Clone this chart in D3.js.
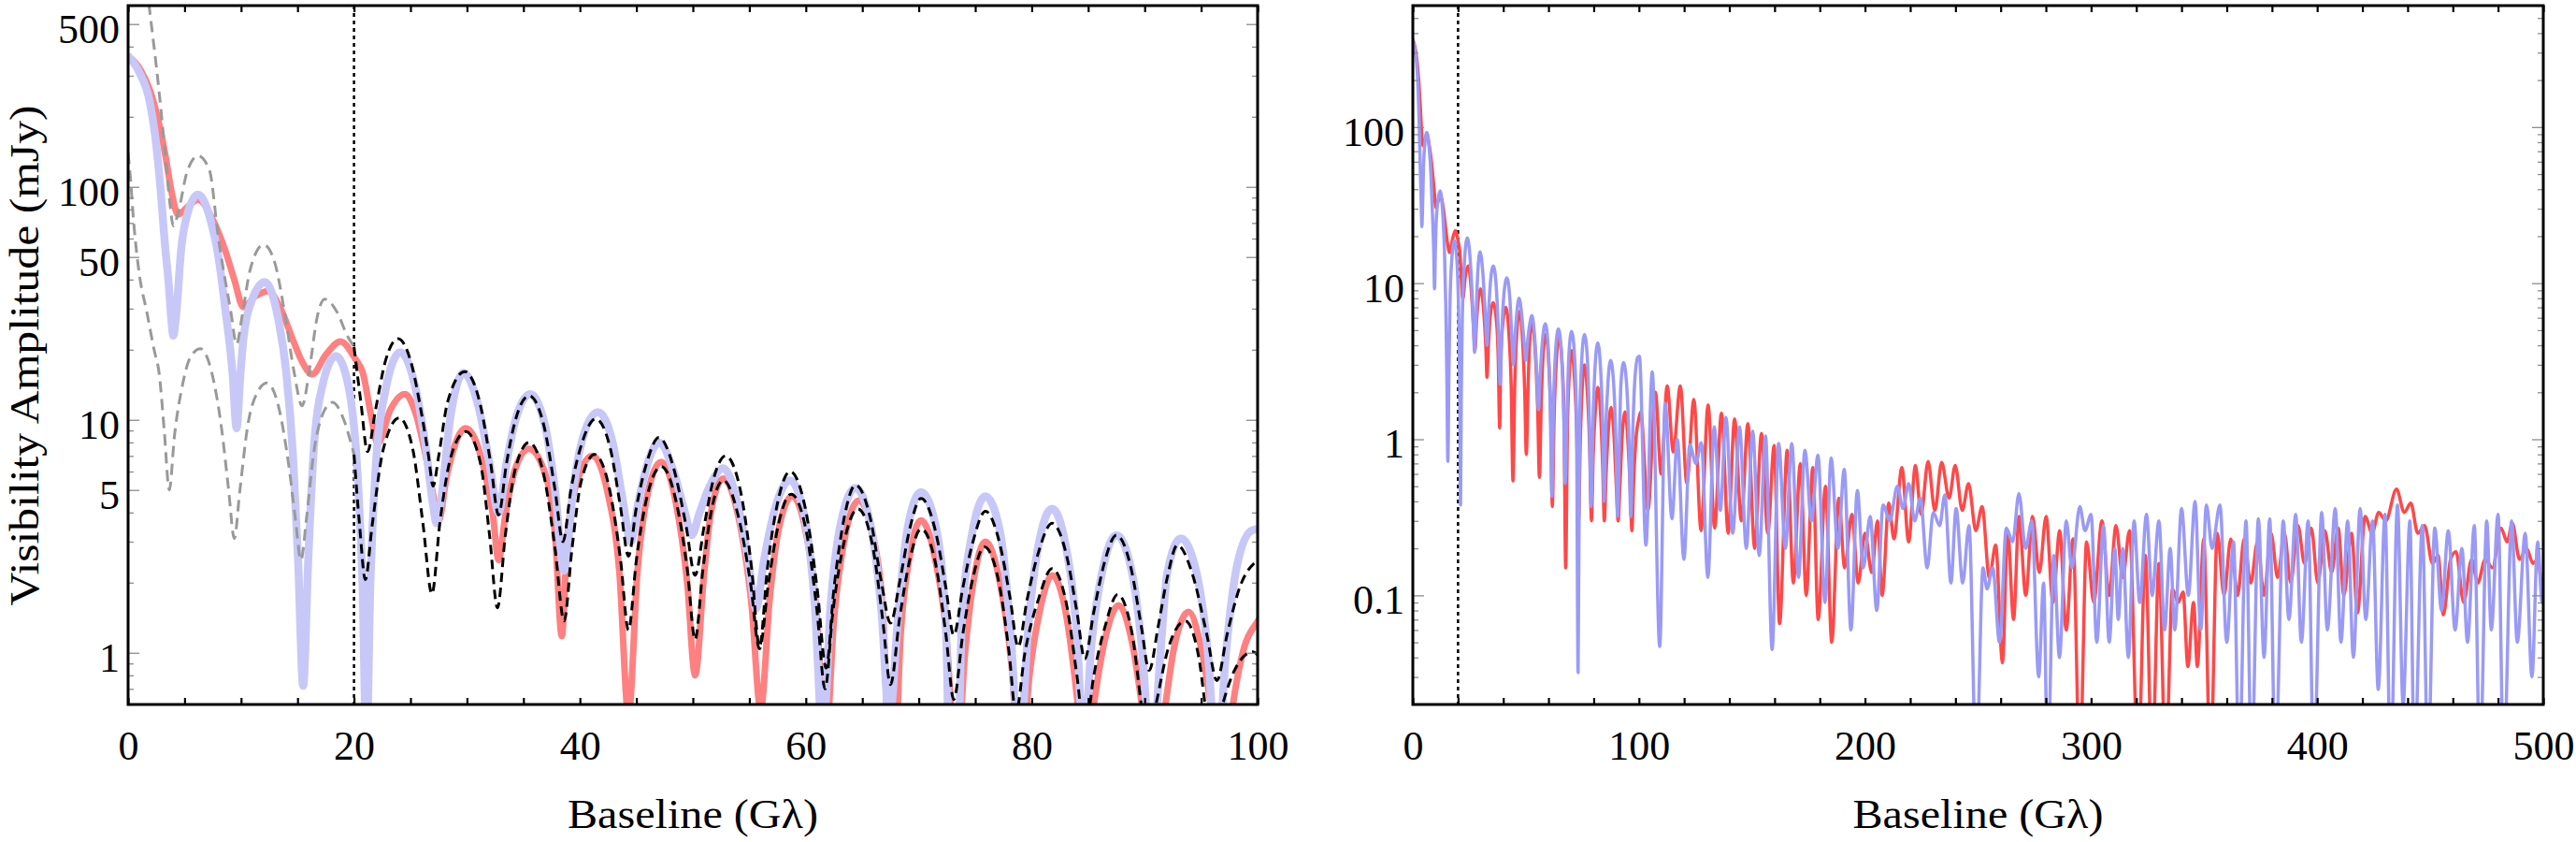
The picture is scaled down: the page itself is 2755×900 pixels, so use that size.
<!DOCTYPE html>
<html><head><meta charset="utf-8">
<script src="https://cdn.jsdelivr.net/npm/d3@7"></script>
<style>
html,body{margin:0;padding:0;background:#fff;}
svg{display:block;}
</style></head><body>
<svg id="chart" width="2755" height="900"></svg>
<script>
// ---------------- DATA ----------------
const leftXLabels = [0, 20, 40, 60, 80, 100];
const rightXLabels = [0, 100, 200, 300, 400, 500];
const leftYLabels = [1, 5, 10, 50, 100, 500];
const rightYLabels = [0.1, 1, 10, 100];
const xTitle = "Baseline (G\u03bb)";
const yTitle = "Visibility Amplitude (mJy)";
const cutBaseline = 20;

// red model, 0-100
const redNear = [[0,365],[1.1,318],[1.93,260],[2.76,185],[3.31,136],[3.87,94],[4.42,76],[5.25,82],[6.2,88],[7.46,73],[8.56,54],[9.4,40],[10.2,30.5],[11.3,34],[12.4,35.7],[13.5,30],[14.6,22],[15.4,17.8],[16.3,15.7],[17.5,19],[18.8,21.7],[20.1,18.3],[20.8,15.8],[21.5,10.5],[22.1,7.9],[23.2,11],[24.5,12.9],[25.5,10.5],[26.3,7.2],[27.0,4.8],[27.5,3.7],[28.2,5.7],[29.9,9.2],[31.5,6.2],[32.3,3.9],[32.8,2.5],[33.4,3.9],[34.3,6.2],[35.5,7.5],[37.1,5.5],[37.8,3.2],[38.4,1.18],[38.9,3.2],[39.9,5.7],[41.1,7.0],[42.4,5.0],[43.5,2.2],[44.3,0.54],[45.1,2.25],[46.0,4.8],[47.2,6.6],[48.5,4.4],[49.5,2.0],[50.2,0.8],[51.0,2.2],[51.6,4.0],[52.7,5.6],[54.0,3.9],[55.2,1.6],[56.0,0.57],[56.8,1.7],[57.6,3.4],[58.8,4.7],[60.0,3.3],[61.0,1.4],[61.7,0.37],[62.5,1.4],[63.5,3.2],[64.7,4.5],[66.0,3.1],[66.9,1.3],[67.6,0.15],[68.4,1.2],[69.2,2.6],[70.2,3.7],[71.4,2.6],[72.5,1.1],[73.3,0.3],[74.1,1.0],[74.9,2.1],[75.9,3.0],[77.1,2.1],[78.2,0.9],[79.0,0.3],[79.8,0.8],[80.7,1.5],[81.8,2.15],[83.0,1.5],[84.0,0.65],[84.7,0.3],[85.5,0.6],[86.5,1.15],[87.7,1.6],[88.9,1.1],[90.0,0.5],[90.8,0.3],[91.6,0.5],[92.6,1.05],[93.9,1.5],[95.0,1.05],[96.1,0.5],[96.9,0.26],[97.7,0.55],[98.8,1.05],[99.9,1.34]];
// red model, 100-500 (extrema)
const redFar = [[100.8,1.5],[104.0,0.35],[107.3,2.0],[109.8,0.6],[112.5,2.2],[115.2,0.83],[118.3,2.2],[121.2,0.52],[124.3,1.8],[127.5,0.26],[130.6,1.66],[133.5,0.27],[136.5,1.47],[139.5,0.25],[142.3,1.35],[145.3,0.3],[148.2,1.26],[151.2,0.2],[154.2,1.09],[157.0,0.25],[159.8,0.91],[162.2,0.066],[165.6,0.85],[168.3,0.12],[171.4,0.7],[174.0,0.1],[176.9,0.66],[179.3,0.07],[182.5,0.5],[185.3,0.05],[188.4,0.42],[191.0,0.15],[194.2,0.33],[197.0,0.12],[200.0,0.25],[203.0,0.14],[205.5,0.3],[207.6,0.1],[210.5,0.39],[212.8,0.23],[216.3,0.66],[219.3,0.22],[222.3,0.68],[224.8,0.33],[227.9,0.72],[230.9,0.35],[233.9,0.71],[237.2,0.42],[239.9,0.68],[243.0,0.35],[245.8,0.52],[249.0,0.26],[251.8,0.37],[255.0,0.13],[257.8,0.21],[260.8,0.037],[263.1,0.26],[265.7,0.07],[268.1,0.32],[271.1,0.1],[274.1,0.32],[277.1,0.14],[280.1,0.32],[283.1,0.09],[286.1,0.26],[289.0,0.06],[292.0,0.23],[295.0,0.008],[298.0,0.22],[301.2,0.09],[304.8,0.3],[308.0,0.1],[311.0,0.28],[314.0,0.13],[317.0,0.26],[320.8,0.008],[324.0,0.18],[327.0,0.008],[330.0,0.16],[333.0,0.008],[336.0,0.11],[338.5,0.09],[340.7,0.105],[342.8,0.035],[345.3,0.09],[347.0,0.035],[349.8,0.23],[352.8,0.008],[355.8,0.25],[358.8,0.1],[361.8,0.23],[364.8,0.1],[367.7,0.23],[370.6,0.12],[373.6,0.22],[376.5,0.1],[379.6,0.25],[382.5,0.13],[385.5,0.25],[388.3,0.12],[391.5,0.28],[394.4,0.16],[397.4,0.27],[400.3,0.12],[403.4,0.26],[406.4,0.14],[409.3,0.27],[411.8,0.1],[415.2,0.25],[417.8,0.077],[421.2,0.32],[424.3,0.25],[427.2,0.34],[430.3,0.3],[435.1,0.48],[438.5,0.34],[441.4,0.39],[444.5,0.25],[447.5,0.28],[451.0,0.16],[453.5,0.18],[455.8,0.075],[459.0,0.17],[461.4,0.19],[464.8,0.09],[468.3,0.17],[471.0,0.12],[474.3,0.17],[477.5,0.15],[481.3,0.27],[484.0,0.22],[486.3,0.29],[489.5,0.17],[492.6,0.2],[495.5,0.16],[497.5,0.17],[500,0.1],[502,0.1]];

// blue model, 0-100
const blueNear = [[0,365],[1.0,310],[1.93,230],[2.4,165],[2.76,113],[3.3,54],[3.6,38],[3.8,28],[4.0,23],[4.25,28],[4.7,54],[5.3,78],[6.2,92.6],[7.3,72],[8.0,50],[8.6,30],[9.25,15.8],[9.6,9.2],[9.95,15.8],[10.2,22],[11.0,33],[12.1,39],[13.3,27],[14.0,16],[14.6,7],[15.05,2.5],[15.5,0.72],[15.95,2.5],[16.4,7],[17.2,14],[18.4,18.8],[19.5,14],[20.3,6],[20.75,2],[21.1,0.38],[21.45,2],[21.9,6],[22.8,13.5],[24.1,19.5],[25.4,14],[26.3,8],[27.0,4.3],[27.3,3.6],[27.7,4.5],[28.5,10],[29.7,15.9],[31.0,11.5],[32.0,6.5],[32.8,4.0],[33.5,6.5],[34.3,10],[35.6,12.9],[36.9,9.5],[37.8,5],[38.6,2.25],[39.4,5],[40.3,8.5],[41.6,10.8],[42.9,8],[43.8,4.5],[44.5,3.0],[45.2,4.5],[46.0,6.5],[47.0,8.0],[48.3,6.0],[49.3,4.0],[49.9,3.2],[50.6,4.0],[51.5,5.2],[52.7,6.2],[53.9,4.5],[54.9,2.5],[55.6,1.55],[56.3,2.5],[57.3,4.2],[58.6,5.5],[59.9,3.8],[60.8,1.6],[61.5,0.43],[62.2,1.6],[63.1,3.6],[64.4,5.1],[65.7,3.6],[66.7,1.5],[67.4,0.52],[68.2,1.5],[69.0,3.4],[70.2,4.9],[71.5,3.5],[72.4,1.3],[73.1,0.032],[73.8,1.3],[74.7,3.2],[75.9,4.7],[77.2,3.3],[78.1,1.3],[78.9,0.37],[79.7,1.3],[80.6,2.9],[81.8,4.15],[83.0,2.9],[84.0,1.2],[84.6,0.4],[85.3,1.1],[86.3,2.3],[87.5,3.2],[88.8,2.3],[89.8,1.0],[90.6,0.32],[91.4,1.0],[92.0,2.2],[93.2,3.1],[94.6,2.2],[95.6,1.0],[96.4,0.32],[97.2,1.0],[98.2,2.4],[99.5,3.35]];
// blue model, 100-500 (extrema)
const blueFar = [[100.2,3.4],[103.1,0.21],[105.9,2.7],[109.2,0.047],[111.6,1.7],[114.6,0.31],[117.0,1.0],[119.9,0.17],[122.5,0.92],[125.2,0.7],[127.6,0.95],[130.5,0.13],[133.3,1.2],[136.0,0.35],[138.5,1.38],[141.5,0.25],[144.5,1.2],[147.5,0.2],[150.3,1.13],[153.2,0.18],[156.0,1.05],[158.9,0.045],[161.8,0.94],[164.8,0.2],[167.6,0.94],[170.6,0.13],[173.4,0.85],[176.3,0.3],[179.2,0.79],[182.3,0.09],[185.0,0.76],[188.0,0.2],[190.8,0.64],[193.8,0.06],[196.6,0.47],[199.2,0.15],[202.3,0.32],[205.2,0.08],[208.0,0.38],[211.0,0.3],[214.3,0.5],[216.8,0.36],[219.3,0.52],[222.0,0.3],[224.5,0.42],[227.5,0.15],[230.2,0.34],[233.0,0.28],[235.3,0.44],[238.0,0.12],[240.3,0.36],[243.2,0.12],[246.0,0.28],[249.2,0.008],[252.2,0.15],[254.0,0.11],[256.5,0.15],[259.5,0.05],[262.5,0.27],[265.3,0.22],[268.1,0.45],[271.0,0.2],[273.8,0.3],[276.8,0.03],[279.0,0.12],[280.8,0.008],[283.5,0.18],[286.0,0.04],[289.0,0.3],[291.5,0.15],[295.0,0.37],[297.3,0.26],[300.0,0.33],[302.5,0.05],[305.5,0.28],[308.0,0.05],[310.5,0.2],[312.0,0.07],[314.0,0.2],[316.5,0.04],[319.0,0.3],[321.5,0.09],[324.5,0.33],[327.0,0.1],[330.0,0.3],[332.5,0.06],[335.0,0.2],[337.0,0.06],[340.0,0.36],[343.0,0.1],[346.0,0.4],[348.5,0.06],[351.0,0.38],[353.5,0.2],[357.0,0.38],[360.0,0.05],[363.0,0.22],[365.5,0.008],[368.5,0.3],[371.0,0.008],[374.0,0.31],[376.5,0.04],[379.0,0.31],[381.5,0.008],[385.0,0.3],[387.5,0.07],[390.5,0.33],[393.0,0.05],[396.0,0.3],[398.5,0.008],[402.0,0.34],[404.5,0.06],[408.0,0.36],[410.5,0.05],[413.5,0.3],[416.0,0.04],[419.0,0.36],[421.5,0.07],[424.5,0.3],[427.0,0.025],[430.0,0.33],[432.5,0.008],[435.5,0.38],[438.0,0.02],[441.0,0.3],[443.0,0.008],[446.5,0.28],[449.0,0.008],[452.0,0.27],[455.0,0.08],[458.0,0.26],[461.0,0.06],[464.0,0.2],[466.5,0.05],[469.5,0.28],[472.0,0.008],[475.0,0.3],[477.0,0.06],[480.0,0.33],[482.5,0.008],[486.0,0.3],[488.5,0.05],[492.0,0.25],[495.0,0.03],[497.5,0.22],[499.5,0.09],[500.5,0.15]];

// dashed comparison curves, left panel (gray below 20, black above 20)
const grayUpper = [[0,5000],[0.9,1500],[1.8,635],[2.76,252],[3.3,136],[3.7,85],[4.0,68],[4.5,80],[5.2,115],[6.2,136],[7.2,118],[8.0,60],[9.1,29],[9.6,21.1],[10.1,28],[10.8,44],[12.0,56.5],[13.0,47],[13.9,28],[14.7,16],[15.4,11.5],[16.1,17],[16.7,27],[17.4,33],[18.5,29],[19.4,23],[20,20.6]];
const grayLower = [[0,140],[0.2,110],[0.5,70],[1.0,42],[1.66,29],[2.3,20],[2.76,15.7],[3.2,9],[3.65,5.0],[4.1,8.5],[4.8,14],[5.5,18.5],[6.4,20.2],[7.4,16],[8.3,9],[8.9,5],[9.4,3.1],[9.9,5],[10.6,9.5],[11.4,13],[12.3,14.4],[13.3,11.5],[14.2,6.5],[14.8,3.8],[15.3,2.5],[15.8,3.8],[16.4,7],[17.2,10.5],[18.1,11.9],[19.1,10],[20,7.1]];
const blackUpper = [[20,20.6],[20.6,12],[21.2,7.3],[21.9,11],[22.8,18],[23.9,22.3],[25.0,18],[26.0,10.5],[26.6,7],[27.0,5.2],[27.5,7],[28.3,12],[29.8,16.1],[31.2,11.5],[32.1,6.5],[32.8,3.9],[33.5,6.5],[34.3,10],[35.5,12.7],[36.8,9.5],[37.8,5],[38.5,3.0],[39.2,5],[40.2,8],[41.4,10.1],[42.7,7.5],[43.6,4.2],[44.3,2.6],[45.0,4.2],[45.9,6.5],[47.0,8.4],[48.3,6.2],[49.4,3.5],[50.2,2.15],[51.0,3.5],[51.8,5.5],[52.9,7.0],[54.2,5.0],[55.2,2.3],[55.9,1.06],[56.6,2.3],[57.5,4.4],[58.6,6.0],[59.9,4.3],[61.0,1.9],[61.8,0.86],[62.5,1.9],[63.4,3.8],[64.4,5.25],[65.7,3.8],[66.7,2.0],[67.5,1.34],[68.3,2.0],[69.2,3.4],[70.2,4.6],[71.5,3.3],[72.4,1.9],[73.1,1.19],[73.9,1.9],[74.8,3.0],[75.9,4.05],[77.2,2.9],[78.1,1.7],[78.8,1.06],[79.6,1.7],[80.6,2.7],[81.8,3.6],[83.1,2.6],[84.0,1.5],[84.7,0.94],[85.5,1.5],[86.4,2.4],[87.5,3.2],[88.8,2.3],[89.7,1.3],[90.4,0.84],[91.2,1.3],[92.0,2.1],[92.9,2.9],[94.2,2.2],[95.5,1.2],[96.4,0.76],[97.3,1.2],[98.4,1.9],[100,2.5]];
const blackLower = [[20,7.1],[20.5,3.5],[21.0,2.06],[21.6,3.5],[22.6,7.5],[24.0,10.2],[25.2,7.5],[26.1,3.6],[26.9,1.79],[27.6,3.6],[28.6,7],[29.9,8.9],[31.2,6.5],[32.0,3.2],[32.7,1.56],[33.4,3.2],[34.3,6.2],[35.5,8.0],[36.8,5.8],[37.8,2.8],[38.6,1.37],[39.3,2.8],[40.1,5.4],[41.3,7.1],[42.6,5.1],[43.6,2.5],[44.3,1.25],[45.0,2.5],[46.0,4.8],[47.2,6.3],[48.5,4.5],[49.5,2.3],[50.2,1.14],[50.9,2.3],[51.7,4.2],[52.7,5.5],[54.0,3.9],[55.1,2.0],[55.9,1.04],[56.7,2.0],[57.6,3.6],[58.7,4.8],[60.0,3.4],[61.0,1.5],[61.7,0.7],[62.4,1.5],[63.4,3.0],[64.6,4.15],[65.9,2.9],[66.8,1.4],[67.5,0.73],[68.3,1.4],[69.2,2.5],[70.2,3.4],[71.5,2.4],[72.4,1.2],[73.1,0.63],[73.9,1.2],[74.8,2.1],[75.8,2.85],[77.1,2.0],[78.0,1.0],[78.6,0.55],[79.4,1.0],[80.6,1.7],[81.8,2.3],[83.1,1.6],[84.0,0.8],[84.7,0.45],[85.5,0.8],[86.5,1.3],[87.6,1.78],[88.9,1.2],[89.7,0.6],[90.2,0.4],[91.0,0.6],[92.1,1.05],[93.6,1.37],[94.8,0.95],[95.6,0.5],[96.1,0.42],[96.9,0.6],[98.0,0.85],[99.6,1.01],[100,0.98]];

// ---------------- DRAWING ----------------
const FONT = "'Liberation Serif','Times New Roman',serif";
const svg = d3.select("#chart");
const TOP = 6, BOTTOM = 753;

const redModel = redNear.concat(redFar);
const blueModel = blueNear.concat(blueFar);

const panels = [
  {id:"L", x0:137, x1:1345, xDom:[0,100], yDom:[0.6,600], step:5, xLabels:leftXLabels, yLabels:leftYLabels,
   series:[
     {data:redModel, color:"#ff8080", width:7},
     {data:blueModel, color:"#c8c8f8", width:8.5},
     {data:grayUpper, color:"#999999", width:3, dash:"12,7"},
     {data:grayLower, color:"#999999", width:3, dash:"12,7"},
     {data:blackUpper, color:"#000000", width:3, dash:"10,6"},
     {data:blackLower, color:"#000000", width:3, dash:"10,6"}
   ]},
  {id:"R", x0:1511, x1:2720, xDom:[0,500], yDom:[0.02,600], step:20, xLabels:rightXLabels, yLabels:rightYLabels,
   series:[
     {data:redModel, color:"#ff4848", width:3.5},
     {data:blueModel, color:"#9a9af6", width:3.5}
   ]}
];

function logTicks(dom){
  const out=[];
  for(let e=-3;e<=3;e++) for(let m=1;m<=9;m++){
    const v=+(m*Math.pow(10,e)).toPrecision(6);
    if(v>=dom[0]*0.9999 && v<=dom[1]*1.0001) out.push(v);
  }
  return out;
}

const defs = svg.append("defs");

panels.forEach(p=>{
  const x = d3.scaleLinear().domain(p.xDom).range([p.x0,p.x1]);
  const y = d3.scaleLog().domain(p.yDom).range([BOTTOM,TOP]);

  defs.append("clipPath").attr("id","clip"+p.id)
    .append("rect").attr("x",p.x0).attr("y",TOP).attr("width",p.x1-p.x0).attr("height",BOTTOM-TOP);

  const g = svg.append("g").attr("clip-path",`url(#clip${p.id})`);

  // dotted marker at 20 Glambda
  g.append("line")
    .attr("x1",x(cutBaseline)).attr("x2",x(cutBaseline))
    .attr("y1",TOP).attr("y2",BOTTOM)
    .attr("stroke","#000").attr("stroke-width",2.5).attr("stroke-dasharray","4,4");

  const line = d3.line().x(d=>x(d[0])).y(d=>y(d[1])).curve(d3.curveMonotoneX);
  p.series.forEach(s=>{
    g.append("path").datum(s.data)
      .attr("d",line)
      .attr("fill","none")
      .attr("stroke",s.color)
      .attr("stroke-width",s.width)
      .attr("stroke-linejoin","round")
      .attr("stroke-dasharray",s.dash||null);
  });

  // x axes (bottom with labels, top ticks only)
  const xt = d3.range(p.xDom[0], p.xDom[1]+0.001, p.step);
  const xb = svg.append("g").attr("transform",`translate(0,${BOTTOM})`)
    .call(d3.axisBottom(x).tickValues(xt).tickSizeInner(-7).tickSizeOuter(0)
      .tickFormat(d=>p.xLabels.includes(d)?String(d):""));
  xb.select(".domain").remove();
  xb.selectAll("line").attr("stroke","#000").attr("stroke-width",2.2);
  xb.selectAll("text").attr("y",59).attr("dy",0)
    .attr("font-family",FONT).attr("font-size",44).attr("fill","#000");

  const xtTop = svg.append("g").attr("transform",`translate(0,${TOP})`)
    .call(d3.axisTop(x).tickValues(xt).tickSizeInner(-7).tickSizeOuter(0).tickFormat(""));
  xtTop.select(".domain").remove();
  xtTop.selectAll("line").attr("stroke","#000").attr("stroke-width",2.2);

  // y axes (left with labels, right ticks only)
  const yt = logTicks(p.yDom);
  const isMajor = d => p.yLabels.includes(d);
  const yl = svg.append("g").attr("transform",`translate(${p.x0},0)`)
    .call(d3.axisLeft(y).tickValues(yt).tickSizeInner(-6).tickSizeOuter(0)
      .tickFormat(d=>isMajor(d)?String(d):""));
  yl.select(".domain").remove();
  yl.selectAll(".tick line").attr("stroke","#8c8c8c").attr("stroke-width",1.3)
    .attr("x2",d=>isMajor(d)?12:6);
  yl.selectAll("text").attr("x",-9).attr("dy","0.44em")
    .attr("font-family",FONT).attr("font-size",44).attr("fill","#000");

  const yr = svg.append("g").attr("transform",`translate(${p.x1},0)`)
    .call(d3.axisRight(y).tickValues(yt).tickSizeInner(-6).tickSizeOuter(0).tickFormat(""));
  yr.select(".domain").remove();
  yr.selectAll(".tick line").attr("stroke","#8c8c8c").attr("stroke-width",1.3)
    .attr("x2",d=>isMajor(d)?-12:-6);

  // frame
  svg.append("rect").attr("x",p.x0).attr("y",TOP)
    .attr("width",p.x1-p.x0).attr("height",BOTTOM-TOP)
    .attr("fill","none").attr("stroke","#000").attr("stroke-width",3);

  // x title
  svg.append("text").attr("x",(p.x0+p.x1)/2).attr("y",885)
    .attr("text-anchor","middle").attr("font-family",FONT).attr("font-size",44)
    .attr("textLength",268).attr("lengthAdjust","spacingAndGlyphs")
    .text(xTitle);
});

// y title (left panel only)
svg.append("text")
  .attr("transform","translate(41,380) rotate(-90)")
  .attr("text-anchor","middle").attr("font-family",FONT).attr("font-size",44)
  .attr("textLength",535).attr("lengthAdjust","spacingAndGlyphs")
  .text(yTitle);
</script>
</body></html>
